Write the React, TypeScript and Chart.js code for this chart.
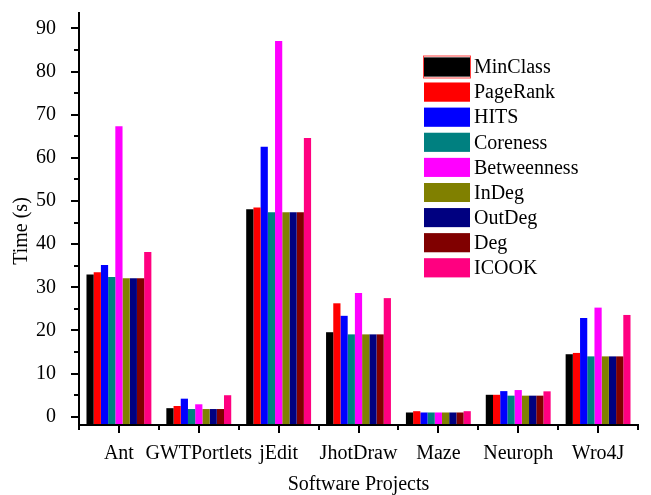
import React, { useEffect, useRef } from 'react';
import { Chart, registerables } from 'chart.js';

Chart.register(...registerables);

const CATEGORIES = ['Ant', 'GWTPortlets', 'jEdit', 'JhotDraw', 'Maze', 'Neuroph', 'Wro4J'];
const SERIES_NAMES = ['MinClass', 'PageRank', 'HITS', 'Coreness', 'Betweenness', 'InDeg', 'OutDeg', 'Deg', 'ICOOK'];
const SERIES_COLORS = ['#000000', '#FF0000', '#0000FF', '#008080', '#FF00FF', '#808000', '#000080', '#800000', '#FF0080'];

const MIN_CLASS = [33.0, 2.0, 48.1, 19.6, 1.0, 5.1, 14.5];
const PAGE_RANK = [33.5, 2.5, 48.5, 26.3, 1.3, 5.1, 14.8];
const HITS = [35.2, 4.2, 62.6, 23.4, 1.0, 5.95, 22.9];
const CORENESS = [32.4, 1.8, 47.4, 19.1, 1.0, 4.9, 14.0];
const BETWEENNESS = [67.3, 2.9, 87.1, 28.7, 1.0, 6.2, 25.3];
const IN_DEG = [32.1, 1.8, 47.4, 19.1, 1.0, 4.9, 14.0];
const OUT_DEG = [32.1, 1.8, 47.4, 19.1, 1.0, 4.9, 14.0];
const DEG = [32.1, 1.8, 47.4, 19.1, 1.0, 4.9, 14.0];
const ICOOK = [38.2, 5.0, 64.6, 27.5, 1.3, 5.9, 23.6];

const SERIES_VALUES = [MIN_CLASS, PAGE_RANK, HITS, CORENESS, BETWEENNESS, IN_DEG, OUT_DEG, DEG, ICOOK];

const Y_TICKS = [0, 5, 10, 15, 20, 25, 30, 35, 40, 45, 50, 55, 60, 65, 70, 75, 80, 85, 90];
const Y_MIN = -1.9;
const Y_MAX = 93.8;
const Y_TITLE = 'Time (s)';
const X_TITLE = 'Software Projects';

const FONT_FAMILY = "'Liberation Serif', 'Times New Roman', serif";

const axesPlugin = {
  id: 'originAxes',
  afterDatasetsDraw(chart: any) {
    const { ctx, chartArea, scales } = chart;
    const { left, right, top, bottom } = chartArea;
    ctx.save();
    ctx.strokeStyle = '#000';
    ctx.lineWidth = 2;
    const line = (x1: number, y1: number, x2: number, y2: number) => {
      ctx.beginPath();
      ctx.moveTo(x1, y1);
      ctx.lineTo(x2, y2);
      ctx.stroke();
    };
    line(left, top, left, bottom + 1);
    line(left - 1, bottom, right + 1, bottom);
    const ys = scales.y;
    for (const v of Y_TICKS) {
      const y = Math.round(ys.getPixelForValue(v));
      const len = v % 10 === 0 ? 8 : 5;
      line(left - len, y, left, y);
    }
    const xs = scales.x;
    const n = CATEGORIES.length;
    for (let i = 0; i < n; i++) {
      const cx = Math.round(xs.getPixelForValue(i));
      line(cx, bottom, cx, bottom + 8);
    }
    for (let i = 0; i <= n; i++) {
      let bx: number;
      if (i === 0) bx = left;
      else if (i === n) bx = right;
      else bx = (xs.getPixelForValue(i - 1) + xs.getPixelForValue(i)) / 2;
      bx = Math.round(bx);
      line(bx, bottom, bx, bottom + 5);
    }
    ctx.fillStyle = '#000';
    ctx.font = `20px ${FONT_FAMILY}`;
    ctx.textAlign = 'center';
    ctx.textBaseline = 'middle';
    // x axis title
    ctx.fillText(X_TITLE, (left + right) / 2, 484.5);
    // y axis title
    ctx.translate(22, 231);
    ctx.rotate(-Math.PI / 2);
    ctx.fillText(Y_TITLE, 0, 0);
    ctx.restore();
  },
};

const legendPlugin = {
  id: 'boxLegend',
  afterDraw(chart: any) {
    const { ctx } = chart;
    const x0 = 424;
    const y0 = 57.5;
    const rowH = 25.1;
    const boxW = 46;
    const boxH = 19;
    ctx.save();
    ctx.font = `20px ${FONT_FAMILY}`;
    ctx.textBaseline = 'middle';
    ctx.textAlign = 'left';
    chart.data.datasets.forEach((ds: any, i: number) => {
      const y = y0 + i * rowH;
      ctx.fillStyle = ds.backgroundColor;
      ctx.fillRect(x0, y, boxW, boxH);
      ctx.globalAlpha = 0.5;
      ctx.strokeStyle = ds.backgroundColor;
      ctx.lineWidth = 1;
      ctx.strokeRect(x0 + 0.5, y + 0.5, boxW - 1, boxH - 1);
      ctx.globalAlpha = 1;
      if (i === 0) {
        ctx.strokeStyle = 'rgba(255,0,0,0.75)';
        ctx.lineWidth = 1;
        ctx.strokeRect(x0 - 0.5, y - 1.5, boxW + 1, boxH + 3);
      }
      ctx.fillStyle = '#000';
      ctx.fillText(ds.label, x0 + boxW + 4, y + boxH / 2 + 1);
    });
    ctx.restore();
  },
};

export default function App() {
  const canvasRef = useRef<HTMLCanvasElement | null>(null);

  useEffect(() => {
    if (!canvasRef.current) return;
    const chart = new Chart(canvasRef.current, {
      type: 'bar',
      data: {
        labels: CATEGORIES,
        datasets: SERIES_NAMES.map((name, i) => ({
          label: name,
          data: SERIES_VALUES[i],
          backgroundColor: SERIES_COLORS[i],
          borderWidth: 0,
          base: Y_MIN,
          categoryPercentage: 0.8125,
          barPercentage: 1.0,
        })),
      },
      options: {
        animation: false,
        responsive: false,
        devicePixelRatio: 1,
        layout: { padding: { top: 12, right: 13, left: 0, bottom: 0 } },
        plugins: {
          legend: { display: false },
          tooltip: { enabled: false },
        },
        scales: {
          x: {
            grid: { display: false },
            border: { display: false },
            ticks: {
              color: '#000',
              padding: 9,
              maxRotation: 0,
              autoSkip: false,
              font: { family: FONT_FAMILY, size: 20, lineHeight: 1.2 },
            },
            title: { display: false },
            afterFit(scale: any) {
              scale.height = 70;
              scale.paddingLeft = 0;
              scale.paddingRight = 0;
            },
          },
          y: {
            min: Y_MIN,
            max: Y_MAX,
            grid: { display: false },
            border: { display: false },
            afterBuildTicks(scale: any) {
              scale.ticks = Y_TICKS.map((v) => ({ value: v }));
            },
            ticks: {
              color: '#000',
              padding: 15,
              autoSkip: false,
              font: { family: FONT_FAMILY, size: 20, lineHeight: 1.0 },
              callback: (value: any) => (Number(value) % 10 === 0 ? String(value) : ''),
            },
            title: { display: false },
            afterFit(scale: any) {
              scale.width = 79;
              scale.paddingTop = 0;
              scale.paddingBottom = 0;
            },
          },
        },
      },
      plugins: [axesPlugin, legendPlugin],
    } as any);
    return () => chart.destroy();
  }, []);

  return (
    <div style={{ position: 'absolute', left: 0, top: 0, width: 651, height: 495, background: '#fff' }}>
      <canvas ref={canvasRef} width={651} height={495} style={{ display: 'block' }} />
    </div>
  );
}
